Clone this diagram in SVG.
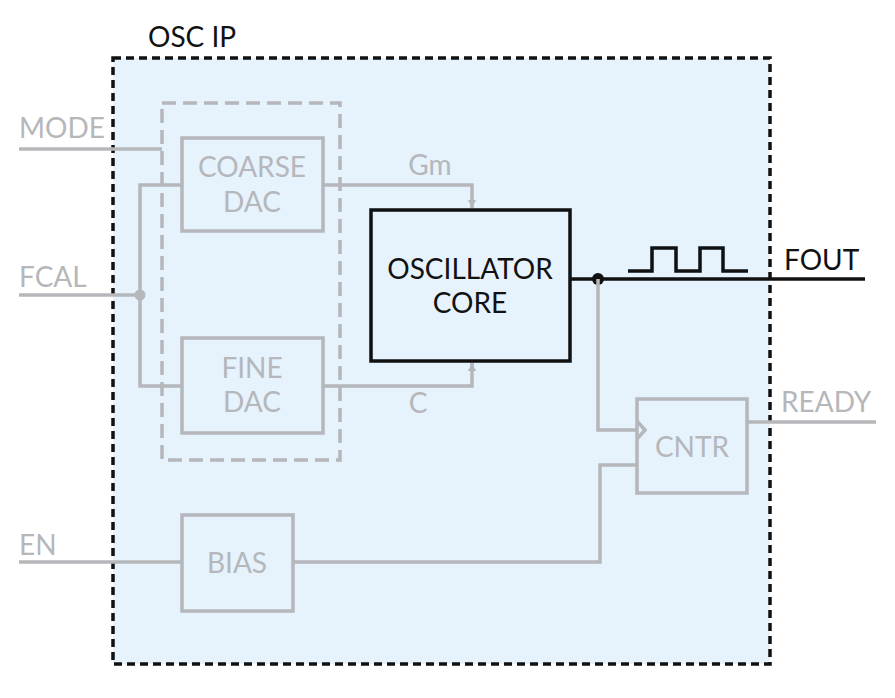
<svg xmlns="http://www.w3.org/2000/svg" width="895" height="698" viewBox="0 0 895 698">
<style>
.g{fill:none;stroke:#b5b7ba;stroke-width:3.5}
.k{fill:none;stroke:#111;stroke-width:3.5}
.box{fill:#e6f2fc;stroke:#b5b7ba;stroke-width:3.5}
.tg{font-family:Lato,"Liberation Sans",sans-serif;font-size:28px;fill:#b5b7ba}
.tk{font-family:Lato,"Liberation Sans",sans-serif;font-size:28px;fill:#111}
.c{text-anchor:middle}
</style>
<defs>
<marker id="ah" markerWidth="10" markerHeight="10" refX="8" refY="5" orient="auto" markerUnits="userSpaceOnUse">
<path d="M0,1 L8,5 L0,9 Z" fill="#b5b7ba"/>
</marker>
</defs>
<rect width="895" height="698" fill="#fff"/>
<g id="osc-ip">
<rect x="113" y="58" width="657" height="606" fill="#e6f2fc" stroke="#111" stroke-width="3.5" stroke-dasharray="8,5"/>
<text class="tk" x="148" y="47">OSC IP</text>
</g>
<g id="dac-group">
<rect x="162" y="103" width="178" height="357" fill="none" stroke="#b5b7ba" stroke-width="3.5" stroke-dasharray="14,7"/>
</g>
<g id="connectors">
<polyline class="g" points="19,149 162,149"/>
<polyline class="g" points="182,185 140,185 140,386 182,386"/>
<polyline class="g" points="19,295 140,295"/>
<circle cx="140" cy="295" r="5.5" fill="#b5b7ba"/>
<polyline class="g" points="323,185 472,185 472,208" marker-end="url(#ah)"/>
<polyline class="g" points="323,386 472,386 472,363" marker-end="url(#ah)"/>
<polyline class="k" points="570,279 865,279"/>
<circle cx="598" cy="279" r="6" fill="#111"/>
<polyline class="k" points="628,271 652,271 652,248 676,248 676,271 700,271 700,248 723,248 723,271 748,271"/>
<polyline class="g" points="598,279 598,430 637,430"/>
<polyline class="g" points="637,465 600,465 600,562 293,562"/>
<polyline class="g" points="747,422 876,422"/>
<polyline class="g" points="19,562 182,562"/>
</g>
<g id="coarse-dac">
<rect class="box" x="182" y="138" width="141" height="93"/>
<text class="tg c" x="252" y="177">COARSE</text>
<text class="tg c" x="252" y="212">DAC</text>
</g>
<g id="fine-dac">
<rect class="box" x="182" y="338" width="141" height="95"/>
<text class="tg c" x="252" y="378">FINE</text>
<text class="tg c" x="252" y="412">DAC</text>
</g>
<g id="osc-core">
<rect x="371" y="210" width="199" height="151" fill="#e6f2fc" stroke="#111" stroke-width="3.5"/>
<text class="tk c" x="470" y="279">OSCILLATOR</text>
<text class="tk c" x="470" y="313">CORE</text>
</g>
<g id="cntr">
<rect class="box" x="637" y="399" width="110" height="94"/>
<polyline class="g" points="637,421 645,430 637,439"/>
<text class="tg c" x="692" y="457">CNTR</text>
</g>
<g id="bias">
<rect class="box" x="182" y="515" width="111" height="96"/>
<text class="tg c" x="237" y="573">BIAS</text>
</g>
<g id="labels">
<text class="tg" x="19" y="138">MODE</text>
<text class="tg" x="19" y="287">FCAL</text>
<text class="tg" x="19" y="555">EN</text>
<text class="tg c" x="430" y="175">Gm</text>
<text class="tg c" x="418" y="413">C</text>
<text class="tk" x="784" y="270">FOUT</text>
<text class="tg" x="781" y="412">READY</text>
</g>
</svg>
